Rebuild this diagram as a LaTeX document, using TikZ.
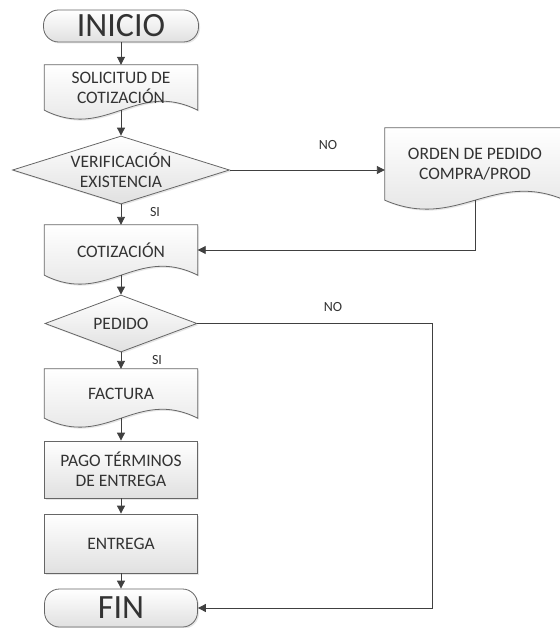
\documentclass[tikz,border=0pt]{standalone}
\usepackage{fontspec}
\setmainfont{Carlito}
\usepackage{tikz}
\usetikzlibrary{arrows.meta,shapes.geometric,shadows,calc,backgrounds}
\tikzstyle{base}=[font=\fontsize{17.5}{20}\selectfont, text=black!80, align=center, inner sep=0pt]
\tikzstyle{boxfill}=[draw=black!60, line width=0.8pt, top color=white, bottom color=black!12, drop shadow={opacity=0.2, shadow xshift=1.5pt, shadow yshift=-1.5pt}]
\tikzstyle{terminal}=[base, boxfill, rounded corners=15pt, font=\fontsize{34}{36}\selectfont]
\tikzstyle{process}=[base, boxfill, minimum width=153pt]
\tikzstyle{decision}=[base, boxfill, diamond]
\tikzstyle{docbox}=[base, minimum width=153pt]
\tikzstyle{answer}=[font=\fontsize{14}{16}\selectfont, text=black!80]
\tikzstyle{arrow}=[color=black!75, line width=0.9pt, >={Triangle[length=8pt,width=8pt]}]
\newcommand{\docoutline}[1]{%
  \path[boxfill] (#1.north west) -- (#1.north east) -- (#1.south east)
    .. controls ($(#1.south west)!0.6!(#1.south east)+(0,-31)$) and ($(#1.south west)!0.4!(#1.south east)+(0,31)$) .. (#1.south west) -- cycle;}

\begin{document}
\begin{tikzpicture}[x=1pt, y=-1pt]
	   \useasboundingbox (0,0) rectangle (559,628);
		   \begin{scope}
			   \node (0) at (121, 26)[terminal, minimum width=155pt, minimum height=32pt] {INICIO};
			   \node (1) at (121, 87.5)[docbox, minimum height=45pt] {SOLICITUD DE\\COTIZACIÓN};
			   \node (2) at (121, 170)[decision, aspect=3.1, minimum width=217pt, minimum height=68pt] {VERIFICACIÓN\\EXISTENCIA};
			   \node (3) at (121, 250)[docbox, minimum height=50pt] {COTIZACIÓN};
			   \node (4) at (121, 323.5)[decision, aspect=2.67, minimum width=152pt, minimum height=57pt] {PEDIDO};
			   \node (5) at (121, 393.5)[docbox, minimum height=49pt] {FACTURA};
			   \node (6) at (121, 469.5)[process, minimum height=57pt] {PAGO TÉRMINOS\\DE ENTREGA};
			   \node (7) at (121, 543.5)[process, minimum height=59pt] {ENTREGA};
			   \node (8) at (121, 608)[terminal, minimum width=153pt, minimum height=38pt] {FIN};
			   \node (9) at (475, 164)[docbox, minimum width=180pt, minimum height=72pt] {ORDEN DE PEDIDO\\COMPRA/PROD};
			   \coordinate (c) at (432, 608);
		   \end{scope}
		   \begin{scope}[on background layer]
			   \docoutline{1}
			   \docoutline{3}
			   \docoutline{5}
			   \docoutline{9}
		   \end{scope}
		   \begin{scope}
			   \node (si1) at (155, 212)[answer] {SI};
			   \node (si2) at (157, 360)[answer] {SI};
			   \node (no1) at (328, 145)[answer] {NO};
			   \node (no2) at (333, 307)[answer] {NO};
		   \end{scope}
		   \begin{scope}[arrow]
			   \path [->] (0) edge (1);
			   \path [->] (1) edge (2);
			   \path [->] (2) edge (3);
			   \path [->] (3) edge (4);
			   \path [->] (4) edge (5);
			   \path [->] (5) edge (6);
			   \path [->] (6) edge (7);
			   \path [->] (7) edge (8);
			   \path [->] (2) edge (2.east -| 9.west);
			   \draw [->] (9.south) |- (3.east);
			   \draw [->] (4.east) -| (c) -- (8.east);
		   \end{scope}
	   \end{tikzpicture}
\end{document}
